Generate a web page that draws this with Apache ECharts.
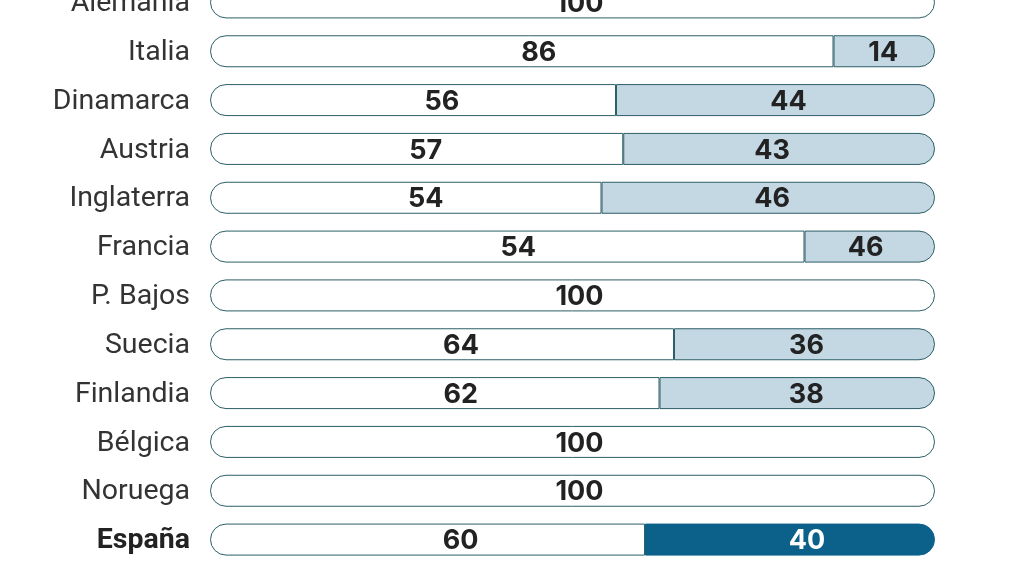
<!DOCTYPE html>
<html><head><meta charset="utf-8">
<script src="https://cdn.jsdelivr.net/npm/echarts@6/dist/echarts.min.js"></script>
<style>html,body{margin:0;padding:0;background:#fff;overflow:hidden;width:1013px;height:570px;position:relative;}
#c{position:absolute;left:0;top:-22px;width:1013px;height:592px;}</style>
</head><body><div id="c"></div>
<script>
const categories = ['Alemania','Italia','Dinamarca','Austria','Inglaterra','Francia','P. Bajos','Suecia','Finlandia','Bélgica','Noruega','España'];
// bar lengths as drawn in the picture
const barFirst  = [100, 86, 56, 57, 54, 82, 100, 64, 62, 100, 100, 60];
const barSecond = [0, 14, 44, 43, 46, 18, 0, 36, 38, 0, 0, 40];
// numbers printed on the bars
const labelFirst  = ['100','86','56','57','54','54','100','64','62','100','100','60'];
const labelSecond = ['','14','44','43','46','46','','36','38','','','40'];
const highlight = 'España';

// layout tweaks: horizontal nudges of the printed numbers (px)
const nudgeFirst  = [7, 17, 29, 9, 20, 11, 7, 19, 26, 7, 7, 33];
const nudgeSecond = [0, -1, 13, -7, 4, -4, 0, 2, 9, 0, 0, 17];

const BORDER = '#2c5f66';
const R = 16;
const chart = echarts.init(document.getElementById('c'), null, {renderer:'canvas'});
const dataA = barFirst.map((v,i)=>({
  value: v,
  itemStyle: {borderRadius: barSecond[i] > 0 ? [R,0,0,R] : R},
  label: {offset:[nudgeFirst[i], 1.5]}
}));
const dataB = barSecond.map((v,i)=>{
  if (!v) return {value: '-'};
  const hi = categories[i] === highlight;
  return {
    value: v,
    itemStyle: {borderRadius:[0,R,R,0], color: hi ? '#0b6189' : '#c4d8e4', borderColor: hi ? '#0b6189' : BORDER},
    label: {color: hi ? '#ffffff' : '#222222', offset:[nudgeSecond[i], 1.5]}
  };
});
const numLabel = {show:true, position:'inside', color:'#222', fontFamily:'Inter', fontWeight:'bold', fontSize:27};
chart.setOption({
  animation:false,
  grid:{left:210, right:78, top:0, bottom:6, containLabel:false},
  xAxis:{type:'value', min:0, max:100, show:false},
  yAxis:{type:'category', data:categories, inverse:true,
    axisLine:{show:false}, axisTick:{show:false}, splitLine:{show:false},
    axisLabel:{margin:20, color:'#333', fontFamily:'Roboto', fontSize:28.5, padding:[3,0,0,0],
      formatter:(v)=> v===highlight ? '{b|'+v+'}' : v,
      rich:{b:{fontWeight:'bold', color:'#222', fontFamily:'Roboto', fontSize:28.5}}}},
  series:[
    {type:'bar', stack:'s', data:dataA, barWidth:32,
      itemStyle:{color:'#ffffff', borderColor:BORDER, borderWidth:1},
      label:Object.assign({}, numLabel, {formatter:(p)=>labelFirst[p.dataIndex]})},
    {type:'bar', stack:'s', data:dataB, barWidth:32,
      itemStyle:{color:'#c4d8e4', borderColor:BORDER, borderWidth:1},
      label:Object.assign({}, numLabel, {formatter:(p)=>labelSecond[p.dataIndex]})}
  ]
});
</script></body></html>
